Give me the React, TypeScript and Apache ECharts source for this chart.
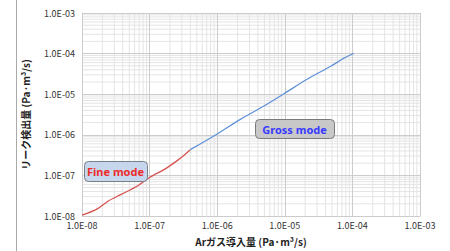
import React, { useEffect, useRef } from "react";
import * as echarts from "echarts";

const fineX = [1.0e-8, 1.66e-8, 2.45e-8, 3.8e-8, 6.5e-8, 1.02e-7, 1.7e-7, 2.5e-7, 3.2e-7, 4.0e-7];
const fineY = [1.05e-8, 1.48e-8, 2.34e-8, 3.4e-8, 5.4e-8, 9.1e-8, 1.45e-7, 2.25e-7, 3.1e-7, 4.3e-7];
const grossX = [4.0e-7, 1.0e-6, 2.2e-6, 5.0e-6, 9.5e-6, 2.1e-5, 4.7e-5, 7.4e-5, 1.05e-4];
const grossY = [4.3e-7, 1.05e-6, 2.4e-6, 5.2e-6, 1.0e-5, 2.3e-5, 4.8e-5, 7.6e-5, 1.02e-4];
const xDecades = [-8, -7, -6, -5, -4];
const yDecades = [-8, -7, -6, -5, -4];
const xName = "Arガス導入量 (Pa·m³/s)";
const yName = "リーク検出量 (Pa·m³/s)";
const fineLabel = "Fine mode";
const grossLabel = "Gross mode";

const fmt = (v: number) => {
  const e = Math.round(Math.log10(v));
  const s = e < 0 ? "-" : "+";
  const a = Math.abs(e);
  return "1.0E" + s + (a < 10 ? "0" + a : String(a));
};

export default function App() {
  const ref = useRef<HTMLDivElement>(null);
  useEffect(() => {
    const chart = echarts.init(ref.current!, null, { renderer: "svg" });
    const minorXData: any[] = [];
    xDecades.forEach((e) => {
      for (let k = 2; k <= 9; k++) {
        const v = k * Math.pow(10, e);
        minorXData.push([v, 1e-8], [v, 1e-3], ["-", "-"]);
      }
    });
    const minorYData: any[] = [];
    yDecades.forEach((e) => {
      for (let k = 2; k <= 9; k++) {
        const v = k * Math.pow(10, e);
        minorYData.push([1e-8, v], [1e-3, v], ["-", "-"]);
      }
    });
    const font = "'Noto Sans CJK JP', sans-serif";
    const gridSeries = (data: any[]) => ({
      type: "line",
      data,
      showSymbol: false,
      silent: true,
      connectNulls: false,
      lineStyle: { color: "#e4e4e4", width: 1 },
      z: 1,
    });
    chart.setOption({
      animation: false,
      grid: { left: 82, right: 30, top: 13, bottom: 29 },
      xAxis: {
        type: "log",
        logBase: 10,
        min: 1e-8,
        max: 1e-3,
        name: xName,
        nameLocation: "middle",
        nameGap: 20,
        nameTextStyle: { fontFamily: font, fontWeight: "bold", fontSize: 10, color: "#222" },
        axisLine: { show: true, lineStyle: { color: "#cccccc" } },
        axisTick: { show: false },
        axisLabel: { formatter: fmt, fontFamily: font, fontSize: 9, color: "#333", margin: 5 },
        splitLine: { show: true, lineStyle: { color: "#cccccc", width: 1 } },
        z: 2,
      },
      yAxis: {
        type: "log",
        logBase: 10,
        min: 1e-8,
        max: 1e-3,
        name: yName,
        nameLocation: "middle",
        nameGap: 52,
        nameTextStyle: { fontFamily: font, fontWeight: "bold", fontSize: 10, color: "#222" },
        axisLine: { show: true, lineStyle: { color: "#cccccc" } },
        axisTick: { show: false },
        axisLabel: { formatter: fmt, fontFamily: font, fontSize: 9, color: "#333", margin: 7 },
        splitLine: { show: true, lineStyle: { color: "#cccccc", width: 1 } },
        z: 2,
      },
      series: [
        gridSeries(minorXData),
        gridSeries(minorYData),
        {
          type: "line",
          data: fineX.map((x, i) => [x, fineY[i]]),
          showSymbol: false,
          smooth: 0.3,
          lineStyle: { color: "#d65350", width: 1.3 },
          z: 5,
        },
        {
          type: "line",
          data: grossX.map((x, i) => [x, grossY[i]]),
          showSymbol: false,
          smooth: 0.3,
          lineStyle: { color: "#6092d8", width: 1.3 },
          z: 5,
        },
      ],
      graphic: [
        {
          type: "line",
          shape: { x1: 16.5, y1: 0, x2: 16.5, y2: 251 },
          style: { stroke: "#aaaaaa", lineWidth: 1 },
        },
        {
          type: "rect",
          shape: { x: 84.5, y: 161.5, width: 63, height: 20, r: 4 },
          style: { fill: "#c6d6ec", stroke: "#7a8088", lineWidth: 1 },
          z: 10,
        },
        {
          type: "text",
          x: 115.5,
          y: 171.5,
          style: {
            text: fineLabel,
            fill: "#ee2b2b",
            font: "bold 11px 'Noto Sans', sans-serif",
            align: "center",
            verticalAlign: "middle",
          },
          z: 11,
        },
        {
          type: "rect",
          shape: { x: 255.5, y: 119.5, width: 79, height: 19, r: 4 },
          style: { fill: "#c8c8c8", stroke: "#7a7a7a", lineWidth: 1 },
          z: 10,
        },
        {
          type: "text",
          x: 294.5,
          y: 129,
          style: {
            text: grossLabel,
            fill: "#3a3aff",
            font: "bold 11px 'Noto Sans', sans-serif",
            align: "center",
            verticalAlign: "middle",
          },
          z: 11,
        },
      ],
    });
    return () => chart.dispose();
  }, []);
  return (
    <div
      ref={ref}
      style={{ position: "fixed", left: 0, top: 0, width: 450, height: 251, background: "#fff" }}
    />
  );
}
